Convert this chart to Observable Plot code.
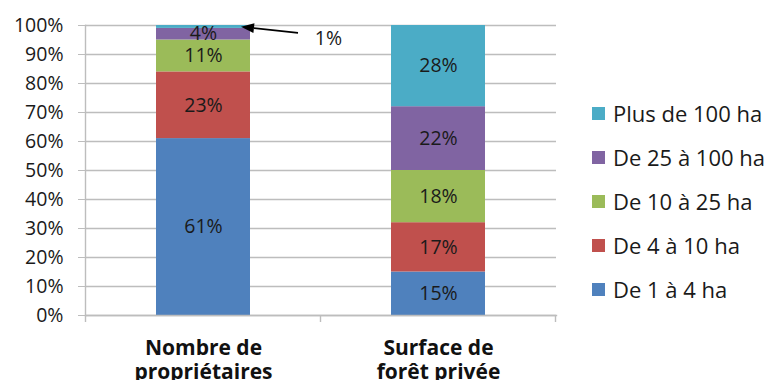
<!DOCTYPE html>
<html>
<head>
<meta charset="utf-8">
<script src="https://cdn.jsdelivr.net/npm/d3@7"></script>
<script src="https://cdn.jsdelivr.net/npm/@observablehq/plot@0.6"></script>
<style>
  html, body { margin: 0; padding: 0; background: white; overflow: hidden; }
  #wrap { position: relative; width: 770px; height: 380px; }
  #legend { position: absolute; left: 592px; top: 91px; font-family: 'Open Sans', sans-serif; font-size: 22px; color: #1a1a1a; }
  #legend .row { height: 44px; display: flex; align-items: center; white-space: nowrap; }
  #legend .sw { width: 13px; height: 13px; margin-right: 8px; }
</style>
</head>
<body>
<div id="wrap"><div id="chart"></div><div id="legend"></div></div>
<script>
const categories = ["Nombre de propriétaires", "Surface de forêt privée"];
const categoryLabels = ["Nombre de\npropriétaires", "Surface de\nforêt privée"];
const classes = ["De 1 à 4 ha", "De 4 à 10 ha", "De 10 à 25 ha", "De 25 à 100 ha", "Plus de 100 ha"];
const proprietaires = [61, 23, 11, 4, 1];
const surface = [15, 17, 18, 22, 28];
const colors = ["#4F81BD", "#C0504D", "#9BBB59", "#8064A2", "#4BACC6"];
const yTicks = [0, 10, 20, 30, 40, 50, 60, 70, 80, 90, 100];
const note = {cat: categories[0], value: 1, text: "1%"};

const series = [proprietaires, surface];
const rows = categories.flatMap((cat, i) => classes.map((cls, j) => ({cat, cls, value: series[i][j]})));

const plot = Plot.plot({
  width: 770, height: 380,
  marginLeft: 85, marginRight: 214, marginTop: 25, marginBottom: 65,
  style: {fontFamily: "'Open Sans', sans-serif", fontSize: "19.5px", background: "white", color: "#1a1a1a"},
  x: {domain: categories, paddingInner: 0.6, paddingOuter: 0.3, axis: null},
  y: {domain: [0, 100], axis: null},
  color: {domain: classes, range: colors},
  marks: [
    Plot.ruleY(yTicks, {stroke: "#bdbdbd", strokeWidth: 1.4}),
    Plot.axisY(yTicks, {label: null, tickSize: 7, stroke: "#bdbdbd", strokeOpacity: 1, tickPadding: 15, tickFormat: d => d + "%", fontSize: 19.5, fill: "#1a1a1a"}),
    Plot.barY(rows, Plot.stackY({x: "cat", y: "value", fill: "cls", order: classes})),
    Plot.text(rows, Plot.stackY({x: "cat", y: "value", z: "cls", order: classes, filter: d => d.value > 1, text: d => d.value + "%", fontSize: 19.5, fill: "#1a1a1a"})),
    Plot.frame({anchor: "left", stroke: "#bdbdbd", strokeWidth: 1.4}),
    Plot.frame({anchor: "bottom", stroke: "#bdbdbd", strokeWidth: 1.4}),
    Plot.text(categories, {x: d => d, frameAnchor: "bottom", lineAnchor: "top", dy: 22, text: (d, i) => categoryLabels[i], fontWeight: "bold", fontSize: 21, lineHeight: 1.15, fill: "#111"}),
    Plot.text([note], {x: "cat", y: 95.3, dx: 125, text: "text", fontSize: 19.5, fill: "#1a1a1a"})
  ]
});
document.getElementById("chart").appendChild(plot);

// category-boundary ticks and annotation arrow, positioned through Plot's scales
const xs = plot.scale("x"), ys = plot.scale("y");
const bw = xs.bandwidth;
const step = xs.step || (xs.apply(categories[1]) - xs.apply(categories[0]));
const svg = d3.select(plot);
const g = svg.append("g");
const y0 = ys.apply(0);
const bounds = [xs.apply(categories[0]) + bw / 2 - step / 2, ...categories.map(c => xs.apply(c) + bw / 2 + step / 2)];
bounds.forEach(x => g.append("line").attr("x1", x).attr("x2", x).attr("y1", y0).attr("y2", y0 + 7).attr("stroke", "#bdbdbd").attr("stroke-width", 1.4));

const tipX = xs.apply(note.cat) + bw - 9, tipY = ys.apply(99.4);
const tailX = xs.apply(note.cat) + bw + 48, tailY = ys.apply(97.3);
const ang = Math.atan2(tipY - tailY, tipX - tailX);
const hl = 13, hw = 5;
const bx = tipX - hl * Math.cos(ang), by = tipY - hl * Math.sin(ang);
g.append("line").attr("x1", tailX).attr("y1", tailY).attr("x2", bx).attr("y2", by).attr("stroke", "#000").attr("stroke-width", 1.6);
g.append("polygon").attr("points", [
  [tipX, tipY],
  [bx + hw * Math.sin(ang), by - hw * Math.cos(ang)],
  [bx - hw * Math.sin(ang), by + hw * Math.cos(ang)]
].map(p => p.join(",")).join(" ")).attr("fill", "#000");

// legend (top entry first)
const legend = d3.select("#legend");
classes.slice().reverse().forEach(cls => {
  const row = legend.append("div").attr("class", "row");
  row.append("div").attr("class", "sw").style("background", colors[classes.indexOf(cls)]);
  row.append("span").text(cls);
});
</script>
</body>
</html>
